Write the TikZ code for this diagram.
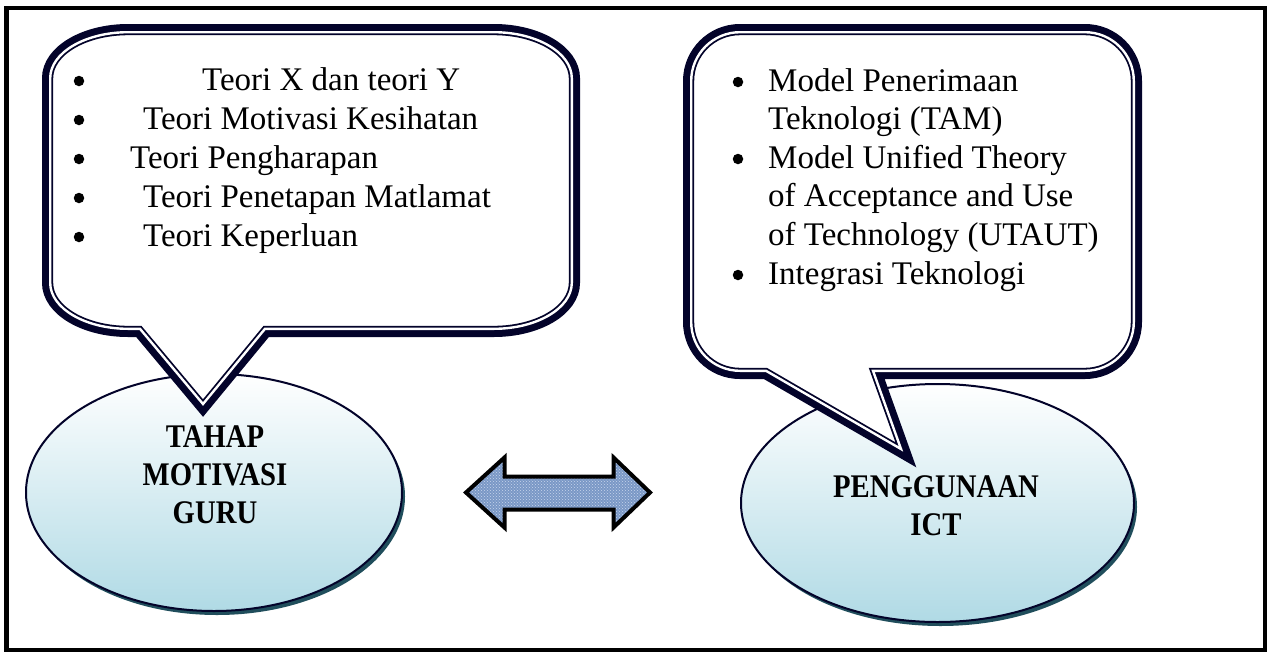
\documentclass[tikz,border=0pt]{standalone}
\usepackage{fontspec}
\setmainfont{Liberation Serif}
\newfontfamily\headfont[FakeStretch=0.87]{Liberation Serif}
\usetikzlibrary{patterns,shapes.geometric,shadows}
\definecolor{navy}{RGB}{3,3,42}
\definecolor{shadowteal}{RGB}{32,78,92}
\definecolor{ellbottom}{RGB}{176,218,229}
\definecolor{denim}{RGB}{122,152,198}
\definecolor{denimlight}{RGB}{200,214,236}
\begin{document}
\begin{tikzpicture}[x=1pt,y=-1pt,
  bodytext/.style={inner sep=0pt, anchor=base west, font=\fontsize{33}{38}\selectfont},
  headtext/.style={inner sep=0pt, anchor=base, font=\headfont\bfseries\fontsize{33}{38}\selectfont},
  dot/.style={circle, fill=black, inner sep=0pt, minimum size=10.5pt},
  oval/.style={ellipse, draw=navy, line width=2pt, inner sep=0pt, top color=white, bottom color=ellbottom,
    drop shadow={shadow xshift=3pt, shadow yshift=-4pt, fill=shadowteal, opacity=1}},
  leftbubble/.style={insert path={(128.2,32.2) -- (493.8,32.2)
    arc[start angle=270,end angle=360,x radius=78,y radius=46] -- (571.8,282.8)
    arc[start angle=0,end angle=90,x radius=78,y radius=46] -- (265,328.8) -- (203,404) -- (140,328.8) -- (128.2,328.8)
    arc[start angle=90,end angle=180,x radius=78,y radius=46] -- (50.2,78.2)
    arc[start angle=180,end angle=270,x radius=78,y radius=46] -- cycle}},
  rightbubble/.style={insert path={(740,32.2) -- (1085,32.2)
    arc[start angle=270,end angle=360,radius=48.8] -- (1133.8,322)
    arc[start angle=0,end angle=90,radius=48.8] -- (873,370.8) -- (901,449) -- (766,370.8) -- (740,370.8)
    arc[start angle=90,end angle=180,radius=48.8] -- (691.2,81)
    arc[start angle=180,end angle=270,radius=48.8] -- cycle}},
  arrowshape/.style={insert path={(466,492.5) -- (504.5,457.5) -- (504.5,476.5) -- (613.5,476.5) -- (613.5,457.5)
    -- (650,492.5) -- (613.5,527.5) -- (613.5,509.5) -- (504.5,509.5) -- (504.5,527.5) -- cycle}}
]
\useasboundingbox (0,0) rectangle (1269,654);
\fill[white] (0,0) rectangle (1269,654);
% outer frame
\draw[black, line width=4.5pt] (6.5,8) rectangle (1265,650);

% ellipses
\node[oval, minimum width=376pt, minimum height=237pt] (guru) at (214,492.5) {};
\node[oval, minimum width=393pt, minimum height=238pt] (ict) at (937.5,503) {};

% speech bubbles (thick-thin double outline)
\foreach \b in {leftbubble,rightbubble}{
  \draw[navy, line width=16.4pt, line join=miter, \b];
  \fill[white, \b];
  \draw[navy, line width=6pt, line join=miter, \b];
  \draw[white, line width=2.4pt, line join=miter, \b];
}

% left bubble text
\node[dot] (lb1) at (79,81) {};
\node[dot] (lb2) at (79,120) {};
\node[dot] (lb3) at (79,159) {};
\node[dot] (lb4) at (79,198) {};
\node[dot] (lb5) at (79,237) {};
\node[bodytext] (l1) at (202,90) {Teori X dan teori Y};
\node[bodytext] (l2) at (143,129) {Teori Motivasi Kesihatan};
\node[bodytext] (l3) at (130,168) {Teori Pengharapan};
\node[bodytext] (l4) at (143,207) {Teori Penetapan Matlamat};
\node[bodytext] (l5) at (143,246) {Teori Keperluan};

% right bubble text
\node[dot] (rb1) at (738,82) {};
\node[dot] (rb2) at (738,159) {};
\node[dot] (rb3) at (738,275) {};
\node[bodytext] (r1) at (768,91) {Model Penerimaan};
\node[bodytext] (r2) at (768,129.5) {Teknologi (TAM)};
\node[bodytext] (r3) at (768,168) {Model Unified Theory};
\node[bodytext] (r4) at (768,206.5) {of Acceptance and Use};
\node[bodytext] (r5) at (768,245) {of Technology (UTAUT)};
\node[bodytext] (r6) at (768,284) {Integrasi Teknologi};

% ellipse text
\node[headtext] (g1) at (215,447) {TAHAP};
\node[headtext] (g2) at (215,485) {MOTIVASI};
\node[headtext] (g3) at (215,523) {GURU};
\node[headtext] (i1) at (936,497) {PENGGUNAAN};
\node[headtext] (i2) at (936,535) {ICT};

% double block arrow
\path[fill=denim, arrowshape];
\path[pattern=crosshatch dots, pattern color=denimlight, arrowshape];
\draw[black, line width=4pt, line join=miter, arrowshape];
\end{tikzpicture}
\end{document}
